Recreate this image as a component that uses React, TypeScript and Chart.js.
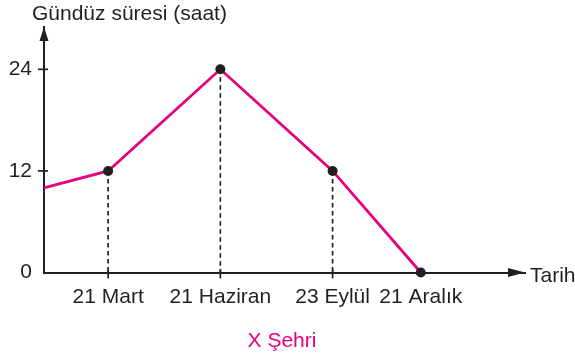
import React, { useEffect, useRef } from "react";
import { Chart, registerables } from "chart.js";

Chart.register(...registerables);

// Schematic positions of the dates along the time axis (axis origin = 0)
const xPositions = [0, 0.8, 2.2, 3.6, 4.7];
const dayHours = [10, 12, 24, 12, 0];
const dateLabels = ["", "21 Mart", "21 Haziran", "23 Eylül", "21 Aralık"];
const yTickValues = [0, 12, 24];
const yTitle = "Gündüz süresi (saat)";
const xTitle = "Tarih";
const cityLabel = "X Şehri";

const FONT = "'Liberation Sans', Arial, Helvetica, sans-serif";
const INK = "#231f20";
const MAGENTA = "#e6007e";

const overlay = {
  id: "overlay",
  beforeDatasetsDraw(chart: any) {
    const { ctx, scales } = chart;
    const x = scales.x;
    const y = scales.y;
    ctx.save();
    ctx.strokeStyle = INK;
    ctx.lineWidth = 1.7;
    ctx.setLineDash([4.5, 3.5]);
    for (let i = 1; i < xPositions.length; i++) {
      if (dayHours[i] <= 0) continue;
      const px = x.getPixelForValue(xPositions[i]);
      ctx.beginPath();
      ctx.moveTo(px, y.getPixelForValue(dayHours[i]));
      ctx.lineTo(px, y.getPixelForValue(0));
      ctx.stroke();
    }
    ctx.restore();
  },
  afterDraw(chart: any) {
    const { ctx, chartArea, scales } = chart;
    const { left, top, right, bottom } = chartArea;
    ctx.save();
    ctx.setLineDash([]);
    ctx.strokeStyle = INK;
    ctx.fillStyle = INK;
    ctx.lineWidth = 1.7;
    // y tick marks
    yTickValues.forEach((v) => {
      if (v === 0) return;
      const py = scales.y.getPixelForValue(v);
      ctx.beginPath();
      ctx.moveTo(left - 6, py);
      ctx.lineTo(left + 4, py);
      ctx.stroke();
    });
    // x tick marks
    for (let i = 1; i < xPositions.length; i++) {
      if (dayHours[i] <= 0) continue;
      const px = scales.x.getPixelForValue(xPositions[i]);
      ctx.beginPath();
      ctx.moveTo(px, bottom - 3);
      ctx.lineTo(px, bottom + 6);
      ctx.stroke();
    }
    // arrows
    ctx.beginPath();
    ctx.moveTo(left, top);
    ctx.lineTo(left - 4.5, top + 14);
    ctx.lineTo(left + 4.5, top + 14);
    ctx.closePath();
    ctx.fill();
    ctx.beginPath();
    ctx.moveTo(right, bottom);
    ctx.lineTo(right - 17, bottom - 4.5);
    ctx.lineTo(right - 17, bottom + 4.5);
    ctx.closePath();
    ctx.fill();
    // texts
    ctx.font = `21px ${FONT}`;
    ctx.textBaseline = "alphabetic";
    ctx.textAlign = "left";
    ctx.fillText(yTitle, 32, 20);
    ctx.fillText(xTitle, right + 5, bottom + 9.5);
    ctx.fillStyle = MAGENTA;
    ctx.textAlign = "center";
    ctx.fillText(cityLabel, 282, 347);
    ctx.restore();
  },
};

export default function App() {
  const ref = useRef<HTMLCanvasElement | null>(null);
  useEffect(() => {
    document.body.style.margin = "0";
    const canvas = ref.current;
    if (!canvas) return;
    const chart = new Chart(canvas, {
      type: "line",
      data: {
        datasets: [
          {
            data: xPositions.map((xv, i) => ({ x: xv, y: dayHours[i] })),
            borderColor: MAGENTA,
            borderWidth: 2.8,
            pointRadius: (c: any) => (c.dataIndex === 0 ? 0 : 5),
            pointBackgroundColor: INK,
            pointBorderColor: INK,
            pointBorderWidth: 0,
            tension: 0,
            clip: false as any,
          },
        ],
      },
      options: {
        animation: false,
        responsive: false,
        devicePixelRatio: 1,
        layout: { padding: { left: 0, top: 27, right: 50, bottom: 36.5 } },
        plugins: {
          legend: { display: false },
          tooltip: { enabled: false },
          title: { display: false },
        },
        scales: {
          x: {
            type: "linear",
            min: 0,
            max: 6,
            afterBuildTicks: (s: any) => {
              s.ticks = xPositions.slice(1).map((v) => ({ value: v }));
            },
            afterFit: (s: any) => {
              s.height = 50;
            },
            ticks: {
              autoSkip: false,
              maxRotation: 0,
              padding: 6,
              color: INK,
              font: { family: FONT, size: 21 },
              callback: (v: any) => dateLabels[xPositions.indexOf(Number(v))] ?? "",
            },
            grid: {
              display: true,
              drawOnChartArea: false,
              drawTicks: true,
              tickLength: 6,
              color: "rgba(0,0,0,0)",
            },
            border: { display: true, color: INK, width: 2 },
          },
          y: {
            type: "linear",
            min: 0,
            max: 29,
            afterBuildTicks: (s: any) => {
              s.ticks = yTickValues.map((v) => ({ value: v }));
            },
            afterFit: (s: any) => {
              s.width = 44;
            },
            ticks: {
              padding: 6,
              color: INK,
              font: { family: FONT, size: 21 },
            },
            grid: {
              display: true,
              drawOnChartArea: false,
              drawTicks: true,
              tickLength: 6,
              color: "rgba(0,0,0,0)",
            },
            border: { display: true, color: INK, width: 2 },
          },
        },
      },
      plugins: [overlay],
    });
    return () => chart.destroy();
  }, []);
  return (
    <div style={{ position: "absolute", left: 0, top: 0, width: 575, height: 359, background: "#fff" }}>
      <canvas ref={ref} width={575} height={359} />
    </div>
  );
}
